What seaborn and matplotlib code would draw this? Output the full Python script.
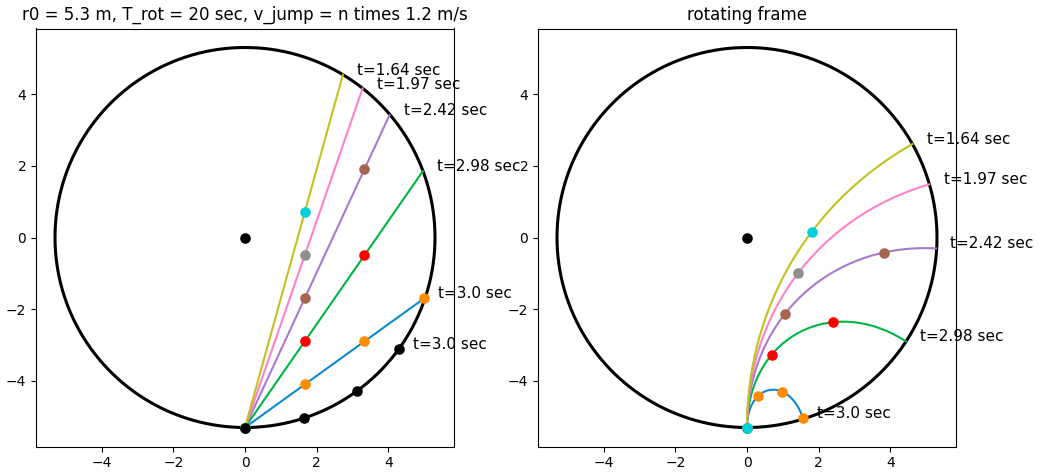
import numpy as np
import pandas as pd
import matplotlib
matplotlib.use("Agg")
import matplotlib.pyplot as plt
import seaborn as sns

# ---- data / parameters ----
r0 = 5.3            # m
T_rot = 20.0        # sec
v_unit = 1.2        # m/s
n_values = [1, 2, 3, 4, 5]
t_end = [3.0, 2.98, 2.42, 1.97, 1.64]
rim_times = [0, 1, 2, 3]
line_colors = ["#0a8ad0", "#00b443", "#ab78cf", "#ff82c8", "#c2c21e"]
dot_colors = ["#ff8c00", "#ff0000", "#a5644f", "#8f8f8f", "#00cfdc"]
title_left = "r0 = 5.3 m, T_rot = 20 sec, v_jump = n times 1.2 m/s"
title_right = "rotating frame"

omega = 2 * np.pi / T_rot
v_t = omega * r0

def inertial(t, n):
    return v_t * t, -r0 + n * v_unit * t

def rotating(t, n):
    x, y = inertial(t, n)
    th = omega * t
    return x * np.cos(th) + y * np.sin(th), -x * np.sin(th) + y * np.cos(th)

fig = plt.figure(figsize=(10.39, 4.74), dpi=100)
axL = fig.add_axes([36 / 1039, 27 / 474, 418 / 1039, 419 / 474])
axR = fig.add_axes([538 / 1039, 27 / 474, 418 / 1039, 419 / 474])

theta = np.linspace(-np.pi / 2, 1.5 * np.pi, 721)
circ = pd.DataFrame({"x": r0 * np.cos(theta), "y": r0 * np.sin(theta)})

lim = 1.1 * r0
for ax, frame in ((axL, inertial), (axR, rotating)):
    sns.lineplot(data=circ, x="x", y="y", sort=False, estimator=None,
                 color="black", lw=2.2, ax=ax)
    if ax is axR:
        sns.scatterplot(x=[0], y=[0], color="black", s=58, linewidth=0, ax=ax, zorder=3)
    for n, te, lc, dc in zip(n_values, t_end, line_colors, dot_colors):
        t = np.linspace(0, te, 300)
        x, y = frame(t, n)
        sns.lineplot(x=x, y=y, sort=False, estimator=None, color=lc, lw=1.5, ax=ax)
        tm = np.arange(0, np.floor(te + 1e-9) + 1)
        xm, ym = frame(tm, n)
        sns.scatterplot(x=xm, y=ym, color=dc, s=58, linewidth=0, ax=ax, zorder=3)
        ax.text(x[-1] + 0.4, y[-1], f"t={round(te, 2)} sec", fontsize=11)
    if ax is axL:
        tr = np.array(rim_times, dtype=float)
        xr = r0 * np.sin(omega * tr)
        yr = -r0 * np.cos(omega * tr)
        sns.scatterplot(x=list(xr) + [0], y=list(yr) + [0], color="black",
                        s=58, linewidth=0, ax=ax, zorder=4)
        ax.text(xr[-1] + 0.4, yr[-1], f"t={float(rim_times[-1])} sec", fontsize=11)
    ax.set_xlim(-lim, lim)
    ax.set_ylim(-lim, lim)
    ax.set_aspect("equal")
    ax.set_xlabel("")
    ax.set_ylabel("")

axL.set_title(title_left, fontsize=12)
axR.set_title(title_right, fontsize=12)

fig.savefig("out.png", dpi=100)
